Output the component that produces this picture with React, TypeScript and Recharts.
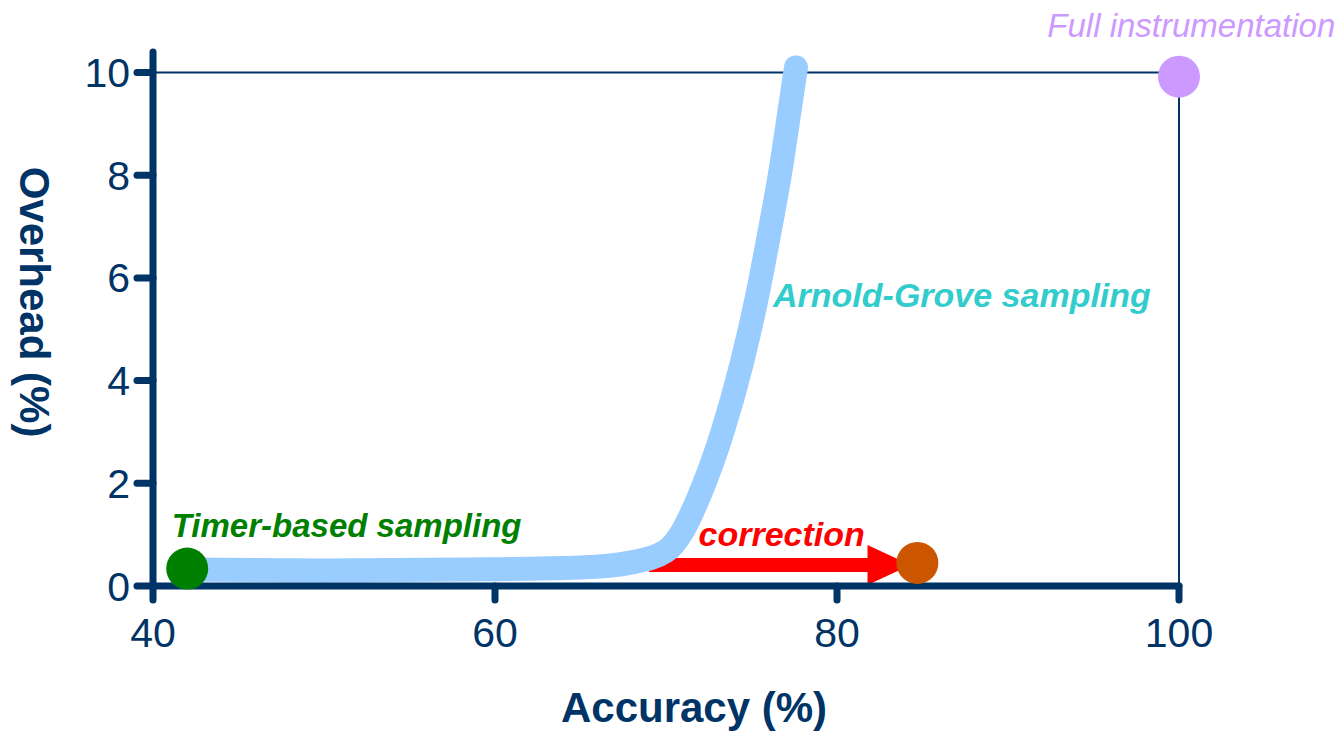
import React from 'react';
import {
  ComposedChart, Line, Scatter, XAxis, YAxis, ReferenceLine, ReferenceDot, Cell,
} from 'recharts';

// Arnold-Grove sampling trade-off curve
const curveX = [42, 50, 58, 65, 68, 70, 70.9, 72.0, 73.3, 74.4, 75.3, 76.0, 76.7, 77.2, 77.6];
const curveY = [0.32, 0.3, 0.32, 0.36, 0.46, 0.68, 1.03, 1.8, 3.0, 4.3, 5.6, 6.8, 8.1, 9.2, 10.1];

// Timer-based, corrected, full instrumentation
const dotX = [42, 84.7, 100];
const dotY = [0.34, 0.45, 9.92];
const dotColors = ['#008000', '#CC5500', '#CC99FF'];

// correction arrow
const arrowX = [69, 84.3];
const arrowY = [0.41, 0.41];

// annotations
const noteText = ['Timer-based sampling', 'Arnold-Grove sampling', 'correction', 'Full instrumentation'];
const noteX = [41.1, 76.26, 71.9, 92.3];
const noteY = [0.95, 5.43, 0.78, 10.69];
const noteColors = ['#008000', '#33CCCC', '#FF0000', '#CC99FF'];
const noteBold = [true, true, true, false];
const noteSize = [33, 34, 34, 33];

const xTicks = [40, 60, 80, 100];
const yTicks = [0, 2, 4, 6, 8, 10];

const NAVY = '#003366';
const FONT = '"Liberation Sans", Arial, sans-serif';

const curveData = curveX.map((x, i) => ({ x, y: curveY[i] }));
const dotData = dotX.map((x, i) => ({ x, y: dotY[i] }));

const Arrow = (props: any) => {
  const { x1, y1, x2 } = props;
  const half = 7;
  const headLen = 43;
  const headHalf = 20;
  const bx = x2 - headLen;
  const pts = [
    [x1, y1 - half], [bx, y1 - half], [bx, y1 - headHalf], [x2, y1],
    [bx, y1 + headHalf], [bx, y1 + half], [x1, y1 + half],
  ].map((p) => p.join(',')).join(' ');
  return <polygon points={pts} fill="#FF0000" />;
};

export default function App() {
  return (
    <div style={{ width: 1344, height: 731, background: '#fff' }}>
      <style>{'body{margin:0}'}</style>
      <ComposedChart
        width={1344}
        height={731}
        margin={{ top: 52, right: 165, bottom: 85, left: 0 }}
        style={{ fontFamily: FONT }}
      >
        <XAxis
          type="number"
          dataKey="x"
          domain={[40, 100]}
          ticks={xTicks}
          height={60}
          tickSize={14}
          tickMargin={18}
          tick={{ fill: NAVY, fontSize: 41, fontFamily: FONT }}
          axisLine={{ stroke: NAVY, strokeWidth: 7, strokeLinecap: 'round' }}
          tickLine={{ stroke: NAVY, strokeWidth: 7, strokeLinecap: 'round' }}
          label={{
            content: ({ viewBox }: any) => (
              <text
                x={viewBox.x + viewBox.width / 2 + 28}
                y={viewBox.y + 136}
                textAnchor="middle"
                fill={NAVY}
                fontSize={42}
                fontWeight="bold"
                fontFamily={FONT}
              >
                Accuracy (%)
              </text>
            ),
          }}
        />
        <YAxis
          type="number"
          dataKey="y"
          domain={[0, 10.4]}
          ticks={yTicks}
          width={153}
          tickSize={16}
          tickMargin={7}
          tick={{ fill: NAVY, fontSize: 41, fontFamily: FONT }}
          axisLine={{ stroke: NAVY, strokeWidth: 7, strokeLinecap: 'round' }}
          tickLine={{ stroke: NAVY, strokeWidth: 7, strokeLinecap: 'round' }}
          label={{
            content: () => (
              <text
                x={0}
                y={0}
                transform="translate(34,302) rotate(90)"
                textAnchor="middle"
                dominantBaseline="central"
                fill={NAVY}
                fontSize={42}
                fontWeight="bold"
                fontFamily={FONT}
              >
                Overhead (%)
              </text>
            ),
          }}
        />
        <ReferenceLine y={10} stroke={NAVY} strokeWidth={2} />
        <ReferenceLine
          segment={[{ x: 100, y: 0 }, { x: 100, y: 10 }]}
          stroke={NAVY}
          strokeWidth={2}
        />
        <ReferenceLine
          segment={[{ x: arrowX[0], y: arrowY[0] }, { x: arrowX[1], y: arrowY[1] }]}
          shape={Arrow}
        />
        <Line
          data={curveData}
          dataKey="y"
          type="monotone"
          stroke="#99CCFF"
          strokeWidth={24}
          strokeLinecap="round"
          strokeLinejoin="round"
          dot={false}
          activeDot={false}
          isAnimationActive={false}
        />
        <Scatter
          data={dotData}
          dataKey="y"
          isAnimationActive={false}
          shape={(p: any) => <circle cx={p.cx} cy={p.cy} r={21} fill={p.fill} />}
        >
          {dotData.map((_, i) => (
            <Cell key={i} fill={dotColors[i]} />
          ))}
        </Scatter>
        {noteText.map((t, i) => (
          <ReferenceDot
            key={t}
            x={noteX[i]}
            y={noteY[i]}
            r={0}
            ifOverflow="visible"
            shape={(p: any) => (
              <text
                x={p.cx}
                y={p.cy}
                fill={noteColors[i]}
                fontSize={noteSize[i]}
                fontStyle="italic"
                fontWeight={noteBold[i] ? 'bold' : 'normal'}
                fontFamily={FONT}
              >
                {t}
              </text>
            )}
          />
        ))}
      </ComposedChart>
    </div>
  );
}
